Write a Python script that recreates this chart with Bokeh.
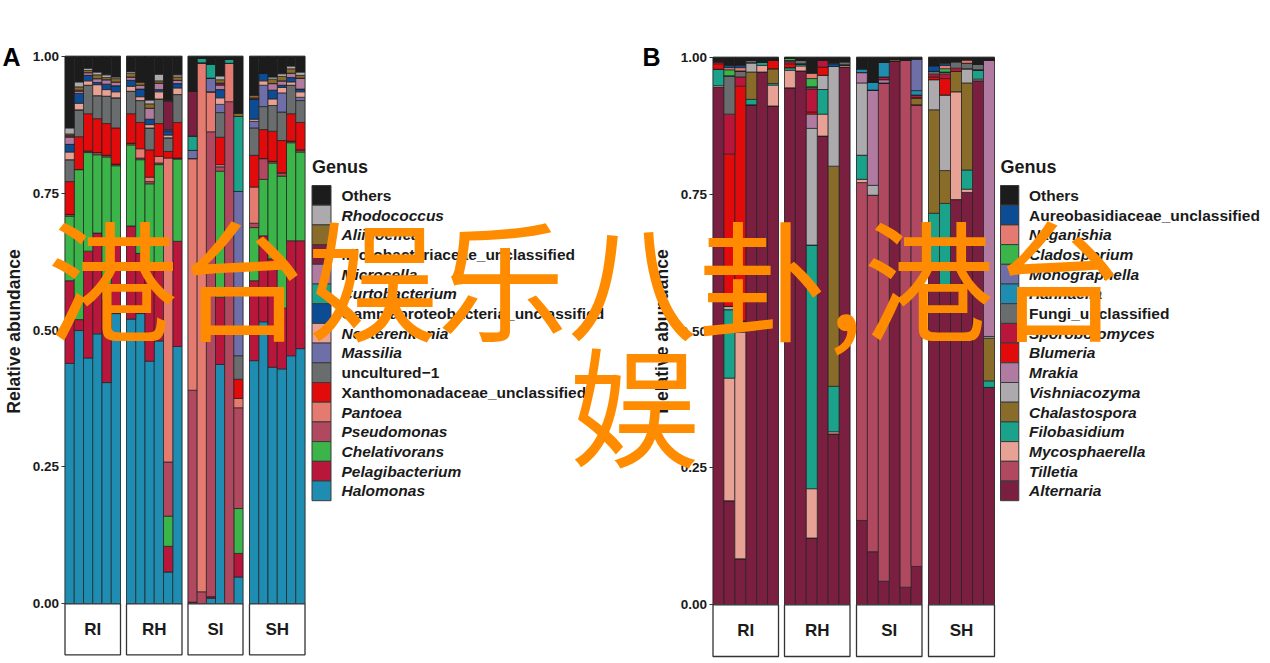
import numpy as np
from bokeh.plotting import figure
from bokeh.models import Range1d, LinearAxis, FixedTicker, NumeralTickFormatter, ColumnDataSource
from bokeh.core.properties import value, field
from bokeh.embed import file_html
from bokeh.resources import INLINE

# ---------------- data ----------------
facets = ["RI", "RH", "SI", "SH"]
sample_pos = [1, 2, 3, 4, 5, 6]

# Panel A (bacteria) - legend order (top of legend = top of stack)
genera_a = ["Others", "Rhodococcus", "Aliihoeflea", "Microbacteriaceae_unclassified", "Microcella",
            "Curtobacterium", "Gammaproteobacteria_unclassified", "Nesterenkonia", "Massilia",
            "uncultured\u22121", "Xanthomonadaceae_unclassified", "Pantoea", "Pseudomonas",
            "Chelativorans", "Pelagibacterium", "Halomonas"]
italic_a = [False, True, True, False, True, True, False, True, True, False, False, True, True, True, True, True]
colors_a = ["#1c1c1c", "#acaaad", "#8a6c2a", "#7b1f40", "#b07aa1", "#1aa38a", "#0b4c94", "#e8a195",
            "#6e6fa9", "#6a6d6e", "#e10b0b", "#e47a70", "#b0485f", "#3bb44a", "#b8173b", "#1f8db1"]

# 24 samples: RI1-6, RH1-6, SI1-6, SH1-6
a_others = [.131, .047, .022, .029, .034, .038, .028, .047, .080, .033, .080, .034,
            .064, .004, .015, .036, .006, .104, .071, .031, .038, .032, .018, .029]
a_rhodococcus = [.011, .009, .004, .005, .005, .003, .003, 0, .007, .012, 0, .004,
                 0, 0, 0, .007, 0, 0, 0, 0, .004, .005, .005, .006]
a_aliihoeflea = [.003, .006, .004, .007, .004, .006, .007, .006, .008, .004, .002, .006,
                 0, 0, 0, .006, 0, .006, .005, 0, .008, .008, .008, .005]
a_microbact = [.003, .002, 0, 0, 0, 0, 0, 0, 0, 0, .052, 0,
               .082, 0, 0, .004, 0, 0, .003, 0, 0, 0, 0, 0]
a_microcella = [.013, .004, .005, .007, .008, .007, .006, .007, .020, .012, .002, .006,
                0, 0, 0, .008, 0, 0, 0, 0, .012, .008, .008, .020]
a_curtobacterium = [0, 0, 0, 0, 0, 0, 0, 0, 0, 0, 0, 0,
                    .026, .008, .025, 0, .007, .137, 0, 0, 0, 0, 0, 0]
a_gamma = [.014, .018, .010, .004, .010, .011, .011, .014, .010, .004, .008, .008,
           0, 0, 0, .015, 0, 0, .036, .014, .016, .004, .008, .005]
a_nesterenkonia = [.014, .012, .008, .020, .012, .011, .009, .007, .006, .013, .005, .012,
                   0, 0, 0, .012, 0, 0, .004, .008, .012, .010, .006, .010]
a_massilia = [0, 0, 0, 0, 0, 0, 0, 0, 0, 0, 0, 0,
              .015, 0, .025, .015, 0, .300, .012, .039, 0, .035, 0, .006]
a_uncultured = [.040, .049, .052, .042, .050, .055, .041, .040, .040, .045, .025, .051,
                0, 0, 0, .045, 0, .043, .050, .042, .047, .052, .052, .040]
a_xanthomonad = [.060, .060, .068, .062, .058, .066, .054, .048, .050, .060, .012, .065,
                 0, 0, 0, .050, 0, .035, .058, .053, .055, .059, .050, .050]
a_pantoea = [0, 0, 0, 0, 0, 0, 0, .017, .008, .012, .555, 0,
             .423, .966, .073, .004, .070, .017, .066, 0, 0, 0, 0, 0]
a_pseudomonas = [.003, 0, .003, .004, .003, .003, .003, .003, .004, .003, .099, .002,
                 .387, .022, .849, .008, .917, .184, .008, .038, .003, .006, .003, .004]
a_chelativorans = [.118, .274, .180, .143, .262, .141, .148, .171, .147, .182, .055, .150,
                   0, 0, 0, .230, 0, .082, .097, .103, .175, .241, .179, .162]
a_pelagibacterium = [.151, .020, .195, .184, .150, .129, .170, .110, .177, .140, .047, .192,
                     .003, 0, .003, .123, 0, .043, .146, .157, .198, .111, .210, .197]
a_halomonas = [.439, .499, .449, .493, .404, .530, .520, .530, .443, .480, .058, .470,
               0, 0, .010, .437, 0, .049, .444, .515, .432, .429, .453, .466]
values_a = [a_others, a_rhodococcus, a_aliihoeflea, a_microbact, a_microcella, a_curtobacterium,
            a_gamma, a_nesterenkonia, a_massilia, a_uncultured, a_xanthomonad, a_pantoea,
            a_pseudomonas, a_chelativorans, a_pelagibacterium, a_halomonas]

# Panel B (fungi)
genera_b = ["Others", "Aureobasidiaceae_unclassified", "Naganishia", "Cladosporium", "Monographella",
            "Hannaella", "Fungi_unclassified", "Sporobolomyces", "Blumeria", "Mrakia", "Vishniacozyma",
            "Chalastospora", "Filobasidium", "Mycosphaerella", "Tilletia", "Alternaria"]
italic_b = [False, False, True, True, True, True, False, True, True, True, True, True, True, True, True, True]
colors_b = ["#1c1c1c", "#0b4c94", "#e47a70", "#3bb44a", "#6e6fa9", "#1f8db1", "#6a6d6e", "#b8173b",
            "#e10b0b", "#b07aa1", "#acaaad", "#8a6c2a", "#1aa38a", "#e8a195", "#b0485f", "#7b1f40"]

b_others = [.008, .015, .015, .006, .009, .005, .002, .006, .029, .005, .012, .008,
            .021, .046, .009, .003, .006, .003, .016, .011, .008, .005, .013, .005]
b_aureo = [0, .004, .004, 0, 0, 0, 0, 0, 0, 0, .005, 0,
           0, 0, 0, 0, 0, 0, .010, .004, 0, 0, 0, 0]
b_naganishia = [0, .004, .006, 0, 0, 0, 0, 0, .010, 0, 0, 0,
                0, 0, 0, 0, 0, 0, 0, .006, 0, .006, 0, 0]
b_cladosporium = [0, .011, 0, 0, 0, 0, .004, 0, .015, 0, 0, 0,
                  0, 0, 0, 0, 0, 0, 0, .006, 0, 0, 0, 0]
b_monographella = [0, 0, 0, 0, 0, 0, 0, 0, 0, 0, 0, 0,
                   0, 0, 0, 0, 0, .058, 0, 0, 0, 0, 0, 0]
b_hannaella = [0, 0, 0, 0, 0, 0, 0, 0, 0, 0, 0, 0,
               .007, .014, .027, 0, 0, .008, 0, 0, 0, 0, 0, 0]
b_fungi = [0, .070, .011, .004, 0, 0, .002, .006, .004, 0, 0, .006,
           0, 0, 0, 0, 0, 0, .005, .004, .012, .010, .010, 0]
b_sporobolomyces = [.004, .073, .017, 0, 0, 0, .004, 0, .042, .013, 0, 0,
                    0, 0, .005, 0, 0, .005, .005, .008, .006, 0, 0, 0]
b_blumeria = [.010, .278, .429, 0, 0, .016, .007, 0, .004, .015, 0, 0,
              0, 0, 0, 0, 0, 0, .005, .030, 0, 0, 0, 0]
b_mrakia = [0, 0, 0, 0, 0, 0, 0, 0, .026, 0, 0, 0,
            .019, .174, .006, 0, 0, 0, 0, 0, 0, 0, 0, .505]
b_vishniacozyma = [0, .006, 0, .017, 0, 0, 0, 0, .213, .026, .182, 0,
                   .132, .018, 0, 0, 0, 0, .055, .138, 0, .026, 0, .003]
b_chalastospora = [0, 0, 0, .050, 0, .027, 0, 0, 0, 0, .402, 0,
                   0, 0, 0, .004, 0, .013, .189, .060, .037, .159, 0, .078]
b_filobasidium = [.030, .125, .020, .010, .006, .003, .005, .004, .445, .045, .083, 0,
                  .044, 0, 0, 0, 0, 0, .095, .153, 0, .035, .017, .012]
b_mycosphaerella = [.003, .224, .414, 0, .012, .038, .032, .009, .090, .040, .004, .004,
                    .006, 0, 0, 0, 0, 0, 0, 0, .197, .006, .003, 0]
b_tilletia = [0, 0, 0, 0, 0, 0, 0, 0, 0, 0, 0, 0,
              .617, .651, .910, 0, .962, .843, 0, 0, 0, 0, 0, 0]
b_alternaria = [.945, .190, .084, .913, .973, .911, .944, .975, .122, .856, .312, .982,
                .154, .097, .043, .993, .032, .070, .620, .580, .740, .753, .957, .397]
values_b = [b_others, b_aureo, b_naganishia, b_cladosporium, b_monographella, b_hannaella,
            b_fungi, b_sporobolomyces, b_blumeria, b_mrakia, b_vishniacozyma, b_chalastospora,
            b_filobasidium, b_mycosphaerella, b_tilletia, b_alternaria]

y_ticks = [0, 0.25, 0.5, 0.75, 1.0]
watermark_lines = ["港台娱乐八卦,港台", "娱"]

# ---------------- layout (screen pixel positions in the picture) ----------------
W, H = 1270, 662
X0, Y0 = 0, 0
FONT = "Liberation Sans"

panels = [
    dict(key="A", genera=genera_a, italic=italic_a, colors=colors_a, values=values_a,
         facet_px=[(64.5, 120.0), (126.0, 181.5), (187.5, 242.5), (249.0, 304.5)],
         y0=603.3, y1=55.7, strip_bottom=654.3, axis_x=64.5, letter_xy=(2, 56),
         legend_x=311.5, key_w=19.0, text_x=341.0),
    dict(key="B", genera=genera_b, italic=italic_b, colors=colors_b, values=values_b,
         facet_px=[(712.5, 778.0), (784.0, 849.5), (856.0, 921.5), (928.0, 994.0)],
         y0=604.3, y1=56.7, strip_bottom=656.0, axis_x=712.5, letter_xy=(642, 56),
         legend_x=1000.0, key_w=18.3, text_x=1028.5),
]
LEG_TOP, LEG_ROW, LEG_TITLE_Y = 185.0, 19.7, 166.5

p = figure(width=W, height=H, x_range=Range1d(X0, X0 + W), y_range=Range1d(Y0 + H, Y0),
           output_backend="svg", toolbar_location=None, min_border=0,
           x_axis_location=None, y_axis_location=None)
p.outline_line_color = None
p.grid.grid_line_color = None
p.background_fill_color = "white"
p.border_fill_color = "white"


def facet_xrange(a, b):
    k = (b - a) / 6.0
    s = 0.5 - (a - X0) / k
    return Range1d(s, s + W / k)


def panel_yrange(y0, y1):
    k = y0 - y1
    s = -((Y0 + H) - y0) / k
    return Range1d(s, s + H / k)


for pan in panels:
    key = pan["key"]
    yname = "y" + key
    p.extra_y_ranges[yname] = panel_yrange(pan["y0"], pan["y1"])
    strip_h = (pan["strip_bottom"] - pan["y0"]) / (pan["y0"] - pan["y1"])
    n = len(pan["genera"])
    stack_cols = ["g%d" % i for i in range(n)][::-1]          # bottom -> top
    stack_colors = pan["colors"][::-1]
    for fi, fac in enumerate(facets):
        xname = "x%s%d" % (key, fi)
        p.extra_x_ranges[xname] = facet_xrange(*pan["facet_px"][fi])
        # panel border
        p.quad(left=[0.5], right=[6.5], bottom=[0], top=[1], fill_color=None,
               line_color="#8f8f8f", line_width=1, x_range_name=xname, y_range_name=yname)
        data = {"x": sample_pos}
        for gi in range(n):
            data["g%d" % gi] = pan["values"][gi][fi * 6:(fi + 1) * 6]
        src = ColumnDataSource(data)
        p.vbar_stack(stack_cols, x="x", width=1.0, source=src, fill_color=stack_colors,
                     line_color="#1e1e1e", line_width=0.7,
                     x_range_name=xname, y_range_name=yname)
        # strip
        p.quad(left=[0.5], right=[6.5], top=[0], bottom=[-strip_h], fill_color="white",
               line_color="#333333", line_width=1.3, x_range_name=xname, y_range_name=yname)
        p.text(x=[3.5], y=[-strip_h / 2], text=[fac], text_font=value(FONT),
               text_font_size="17px", text_font_style="bold", text_color="#1a1a1a",
               text_align="center", text_baseline="middle",
               x_range_name=xname, y_range_name=yname)

    ax = LinearAxis(y_range_name=yname, fixed_location=pan["axis_x"],
                    ticker=FixedTicker(ticks=y_ticks),
                    formatter=NumeralTickFormatter(format="0.00"),
                    axis_label="Relative abundance")
    ax.axis_line_color = None
    ax.major_tick_line_color = "#333333"
    ax.major_tick_out = 4
    ax.major_tick_in = 0
    ax.minor_tick_line_color = None
    ax.major_label_standoff = 2
    ax.major_label_text_font = FONT
    ax.major_label_text_font_size = "13.5px"
    ax.major_label_text_font_style = "bold"
    ax.major_label_text_color = "#1a1a1a"
    ax.axis_label_text_font = FONT
    ax.axis_label_text_font_size = "17.5px"
    ax.axis_label_text_font_style = "bold"
    ax.axis_label_text_color = "#1a1a1a"
    ax.axis_label_standoff = 6
    p.add_layout(ax, "left")

    # panel letter
    lx, ly = pan["letter_xy"]
    p.text(x=[lx], y=[ly], text=[key], text_font=value(FONT), text_font_size="25px",
           text_font_style="bold", text_color="#000000", text_baseline="middle", text_align="left")

    # legend
    lx0 = pan["legend_x"]
    kw = pan["key_w"]
    centers = [LEG_TOP + LEG_ROW * (i + 0.5) for i in range(n)]
    p.quad(left=[lx0] * n, right=[lx0 + kw] * n,
           top=[c - LEG_ROW / 2 for c in centers], bottom=[c + LEG_ROW / 2 for c in centers],
           fill_color=pan["colors"], line_color="#3a3a3a", line_width=1)
    lsrc = ColumnDataSource(dict(x=[pan["text_x"]] * n, y=centers, text=pan["genera"],
                                 style=["bold italic" if it else "bold" for it in pan["italic"]]))
    p.text(x="x", y="y", text="text", source=lsrc, text_font=value(FONT), text_font_size="15.5px",
           text_font_style=field("style"), text_color="#1a1a1a", text_baseline="middle",
           text_align="left")
    p.text(x=[lx0], y=[LEG_TITLE_Y], text=["Genus"], text_font=value(FONT),
           text_font_size="18px", text_font_style="bold", text_color="#1a1a1a",
           text_baseline="middle", text_align="left")

# watermark overlay
wm = p.text(x=[47, 569], y=[273.5, 399.5], text=watermark_lines, text_font=value("Noto Sans CJK SC"),
            text_font_size="130px", text_color="#FF8C00", text_baseline="middle", text_align="left")
wm.level = "overlay"

open("out.html", "w").write(file_html(p, INLINE))
